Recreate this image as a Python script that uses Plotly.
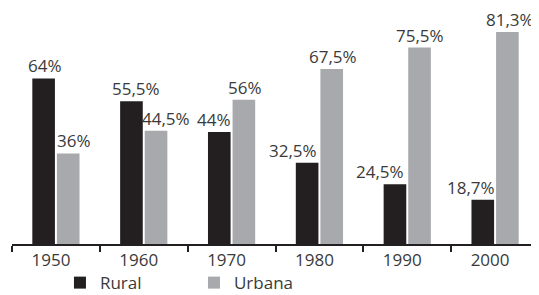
import plotly.graph_objects as go

years = ["1950", "1960", "1970", "1980", "1990", "2000"]
rural = [64, 55.5, 44, 32.5, 24.5, 18.7]
urbana = [36, 44.5, 56, 67.5, 75.5, 81.3]
rural_labels = ["64%", "55,5%", "44%", "32,5%", "24,5%", "18,7%"]
urbana_labels = ["36%", "44,5%", "56%", "67,5%", "75,5%", "81,3%"]

# style: horizontal pixel nudges of the value labels
rural_nudge = [1, 5, -5, -14, -15, -12]
urbana_nudge = [6, 10, 1, 1, 0, 3]

DARK = "#231f20"
GRAY = "#a7a9ac"
TXT = "#3a3a3a"
FONT = "Open Sans"

BARGAP = 0.44

fig = go.Figure()
fig.add_trace(go.Bar(name="Rural", x=years, y=rural, marker=dict(color=DARK, line=dict(width=0))))
fig.add_trace(go.Bar(name="Urbana", x=years, y=urbana, marker=dict(color=GRAY, line=dict(width=0))))

off = (1 - BARGAP) / 4
for i in range(len(years)):
    fig.add_annotation(x=i - off, y=rural[i], text=rural_labels[i], showarrow=False,
                       xref="x", yref="y", yanchor="bottom", xanchor="center",
                       xshift=rural_nudge[i], yshift=-1,
                       font=dict(family=FONT, size=17, color=TXT))
    fig.add_annotation(x=i + off, y=urbana[i], text=urbana_labels[i], showarrow=False,
                       xref="x", yref="y", yanchor="bottom", xanchor="center",
                       xshift=urbana_nudge[i], yshift=-1,
                       font=dict(family=FONT, size=17, color=TXT))

fig.update_layout(
    width=539, height=303,
    margin=dict(l=4, r=8, t=2, b=67),
    paper_bgcolor="white", plot_bgcolor="white",
    barmode="group", bargap=BARGAP, bargroupgap=0.08,
    font=dict(family=FONT, size=17, color=TXT),
    showlegend=True,
    legend=dict(orientation="h", x=0.091, xanchor="left", y=-0.09, yanchor="top",
                font=dict(family=FONT, size=17, color=TXT),
                entrywidth=89, entrywidthmode="pixels",
                bgcolor="rgba(0,0,0,0)", borderwidth=0),
    xaxis=dict(type="category", showline=True, linewidth=2, linecolor=DARK,
               ticks="outside", tickson="boundaries", ticklen=6, tickwidth=2, tickcolor=DARK,
               showgrid=False, zeroline=False, ticklabelshift=-5, ticklabelstandoff=0,
               tickfont=dict(family=FONT, size=17, color=TXT), fixedrange=True),
    yaxis=dict(visible=False, range=[2.24, 89.5], showgrid=False, zeroline=False),
)

fig.write_html("out.html")
